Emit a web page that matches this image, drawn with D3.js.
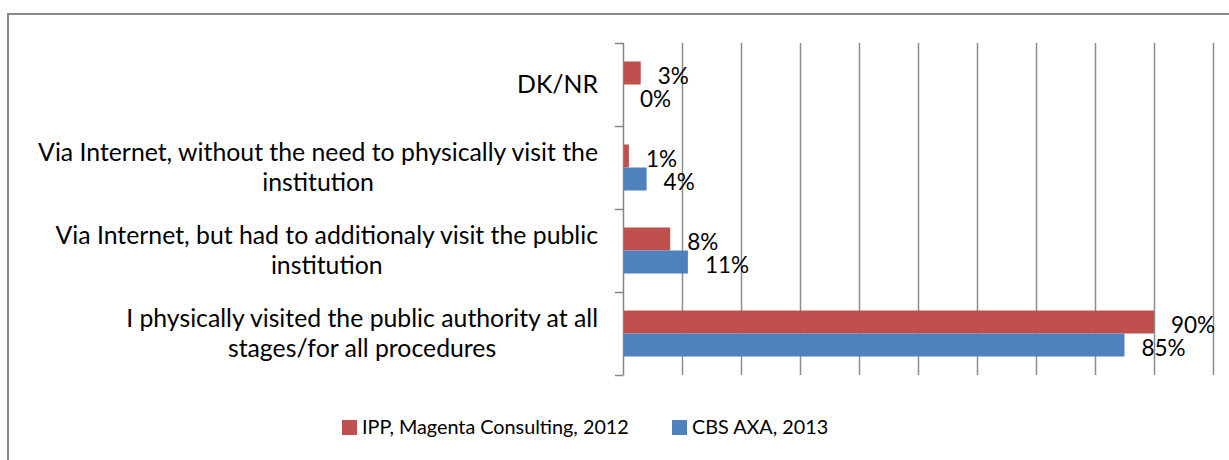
<!DOCTYPE html>
<html>
<head>
<meta charset="utf-8">
<script src="https://cdn.jsdelivr.net/npm/d3@7/dist/d3.min.js"></script>
<style>
  html, body { margin: 0; padding: 0; background: #fff; }
  svg { display: block; }
  text { font-family: Lato, "Open Sans", sans-serif; fill: #000; }
</style>
</head>
<body>
<svg id="chart" width="1229" height="460"></svg>
<script>
// Survey answers (each label split into its displayed lines)
const categories = [
  ["DK/NR"],
  ["Via Internet, without the need to physically visit the", "institution"],
  ["Via Internet, but had to additionaly visit the public", "institution"],
  ["I physically visited the public authority at all", "stages/for all procedures"]
];
const seriesNames = ["IPP, Magenta Consulting, 2012", "CBS AXA, 2013"];
const ippValues = [3, 1, 8, 90];
const cbsValues = [0, 4, 11, 85];
const xTicks = [0, 10, 20, 30, 40, 50, 60, 70, 80, 90, 100];

const colors = ["#C0504D", "#4F81BD"];
const series = [ippValues, cbsValues];

const svg = d3.select("#chart");
const W = 1229, H = 460;
const plot = { left: 623, right: 1213, top: 43, bottom: 375 };
const catFont = 24.8, valueFont = 22.5, legendFont = 19.8;

// Outer chart frame (runs past the right and bottom edges)
svg.append("path")
  .attr("d", `M8,${H + 5} L8,14 L${W + 5},14`)
  .attr("fill", "none")
  .attr("stroke", "#8a8a8a")
  .attr("stroke-width", 2);

const keys = categories.map((c, i) => i);
const x = d3.scaleLinear().domain([0, 100]).range([plot.left, plot.right]);
const y = d3.scaleBand().domain(keys).range([plot.top, plot.bottom]).paddingInner(0).paddingOuter(0);
const sub = d3.scaleBand().domain([0, 1]).range([18.5, y.bandwidth() - 18.5]).padding(0);

// Vertical gridlines
svg.append("g").selectAll("line").data(xTicks.filter(t => t > 0)).join("line")
  .attr("x1", d => Math.round(x(d)) + 0.5).attr("x2", d => Math.round(x(d)) + 0.5)
  .attr("y1", plot.top).attr("y2", plot.bottom)
  .attr("stroke", "#8c8c8c").attr("stroke-width", 1.5);

// Category axis with tick marks on band boundaries
const axisG = svg.append("g");
axisG.append("line")
  .attr("x1", plot.left + 0.5).attr("x2", plot.left + 0.5)
  .attr("y1", plot.top).attr("y2", plot.bottom)
  .attr("stroke", "#868686").attr("stroke-width", 1.5);
const bounds = keys.map(k => y(k)).concat([plot.bottom]);
axisG.selectAll("line.tick").data(bounds).join("line").attr("class", "tick")
  .attr("x1", plot.left - 8).attr("x2", plot.left + 0.5)
  .attr("y1", d => Math.round(d) + 0.5).attr("y2", d => Math.round(d) + 0.5)
  .attr("stroke", "#868686").attr("stroke-width", 1.5);

// Category labels: right-aligned block, lines centered within it
const labelRight = 598, lineH = 30.5;
const tmp = svg.append("text").style("font-size", catFont + "px");
keys.forEach(k => {
  const lines = categories[k];
  const widths = lines.map(l => { tmp.text(l); return tmp.node().getComputedTextLength(); });
  const blockW = d3.max(widths);
  const cx = labelRight - blockW / 2;
  const cy = y(k) + y.bandwidth() / 2;
  const t = svg.append("text")
    .attr("text-anchor", "middle")
    .style("font-size", catFont + "px");
  lines.forEach((l, i) => {
    t.append("tspan")
      .attr("x", cx)
      .attr("y", cy + (i - (lines.length - 1) / 2) * lineH)
      .attr("dy", "0.35em")
      .text(l);
  });
});
tmp.remove();

// Bars and value labels
series.forEach((vals, s) => {
  const g = svg.append("g");
  g.selectAll("rect").data(vals).join("rect")
    .attr("x", plot.left + 1)
    .attr("y", (d, i) => y(i) + sub(s))
    .attr("width", d => Math.max(0, x(d) - plot.left - 1))
    .attr("height", sub.bandwidth())
    .attr("fill", colors[s]);
  g.selectAll("text").data(vals).join("text")
    .attr("x", d => x(d) + 17)
    .attr("y", (d, i) => y(i) + sub(s) + sub.bandwidth() / 2 + 3)
    .attr("dy", "0.35em")
    .style("font-size", valueFont + "px")
    .text(d => d + "%");
});

// Legend
const legendItems = [{ x: 342 }, { x: 672 }];
legendItems.forEach((it, i) => {
  svg.append("rect")
    .attr("x", it.x).attr("y", 420).attr("width", 15).attr("height", 15)
    .attr("fill", colors[i]);
  svg.append("text")
    .attr("x", it.x + 20).attr("y", 427.5).attr("dy", "0.35em")
    .style("font-size", legendFont + "px")
    .text(seriesNames[i]);
});
</script>
</body>
</html>
